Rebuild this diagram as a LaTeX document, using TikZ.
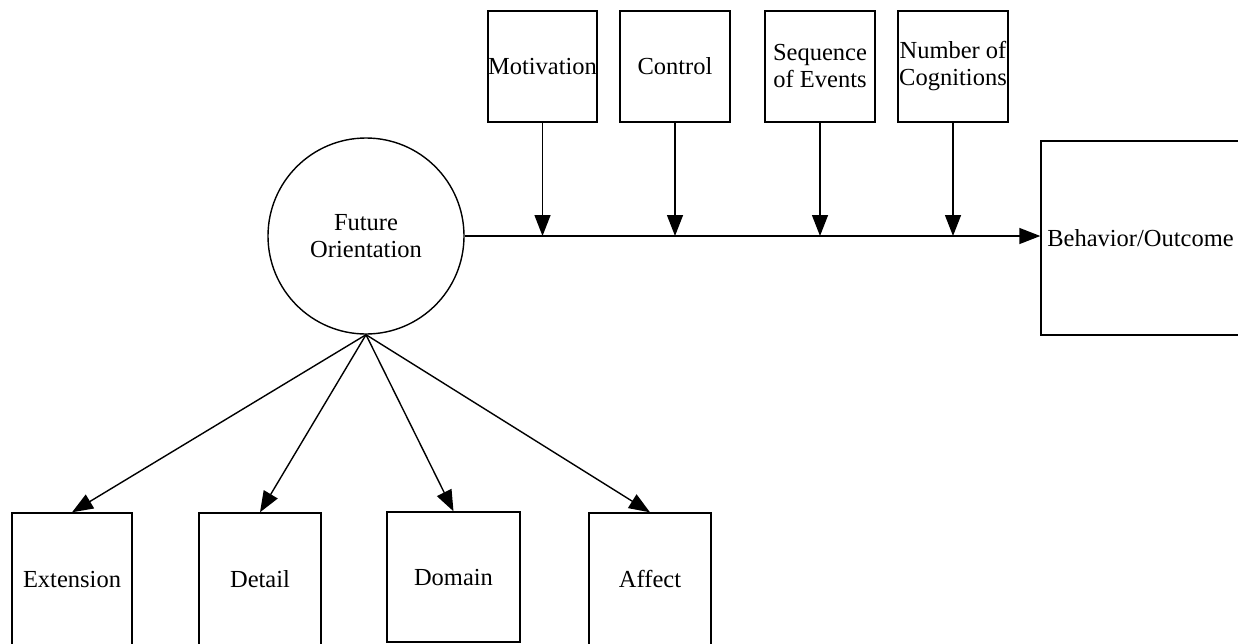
\documentclass[tikz,border=0pt]{standalone}
\usepackage{fontspec}
\setmainfont{Liberation Serif}
\usetikzlibrary{arrows.meta}
\begin{document}
\begin{tikzpicture}[x=1pt,y=-1pt,
  every node/.style={font=\fontsize{24.5}{27}\selectfont, text=black},
  box/.style={draw, line width=1.4pt, inner sep=0pt, align=center},
  latent/.style={draw, circle, line width=1.4pt, inner sep=0pt, minimum size=196pt, align=center},
  conn/.style={line width=1.4pt, -{Triangle[length=21pt,width=16pt]}}]
\useasboundingbox (0,0) rectangle (1238,643);

% latent construct
\node[latent] (fo) at (366,236) {Future\\Orientation};

% outcome
\node[box, minimum width=199pt, minimum height=194pt] (beh) at (1140.5,238) {Behavior/Outcome};

% moderators
\node[box, minimum width=109pt, minimum height=111pt] (mot) at (542.5,66.5) {Motivation};
\node[box, minimum width=110pt, minimum height=111pt] (ctl) at (675,66.5) {Control};
\node[box, minimum width=110pt, minimum height=111pt] (seq) at (820,66.5) {Sequence\\of Events};
\node[box, minimum width=110pt, minimum height=111pt] (num) at (953,66.5) {Number of\\Cognitions};

% indicators
\node[box, minimum width=120pt, minimum height=132pt] (ext) at (72,579) {Extension};
\node[box, minimum width=122pt, minimum height=132pt] (det) at (260,579) {Detail};
\node[box, minimum width=133pt, minimum height=130pt] (dom) at (453.5,577) {Domain};
\node[box, minimum width=122pt, minimum height=132pt] (aff) at (650,579) {Affect};

% main path
\draw[conn] (fo.east) -- (fo.east -| beh.west);

% moderating arrows onto the main path
\foreach \m in {mot,ctl,seq,num}
  \draw[conn] (\m.south) -- (\m.south |- fo.east);

% indicator arrows
\foreach \i in {ext,det,dom,aff}
  \draw[conn] (fo.south) -- (\i.north);
\end{tikzpicture}
\end{document}
